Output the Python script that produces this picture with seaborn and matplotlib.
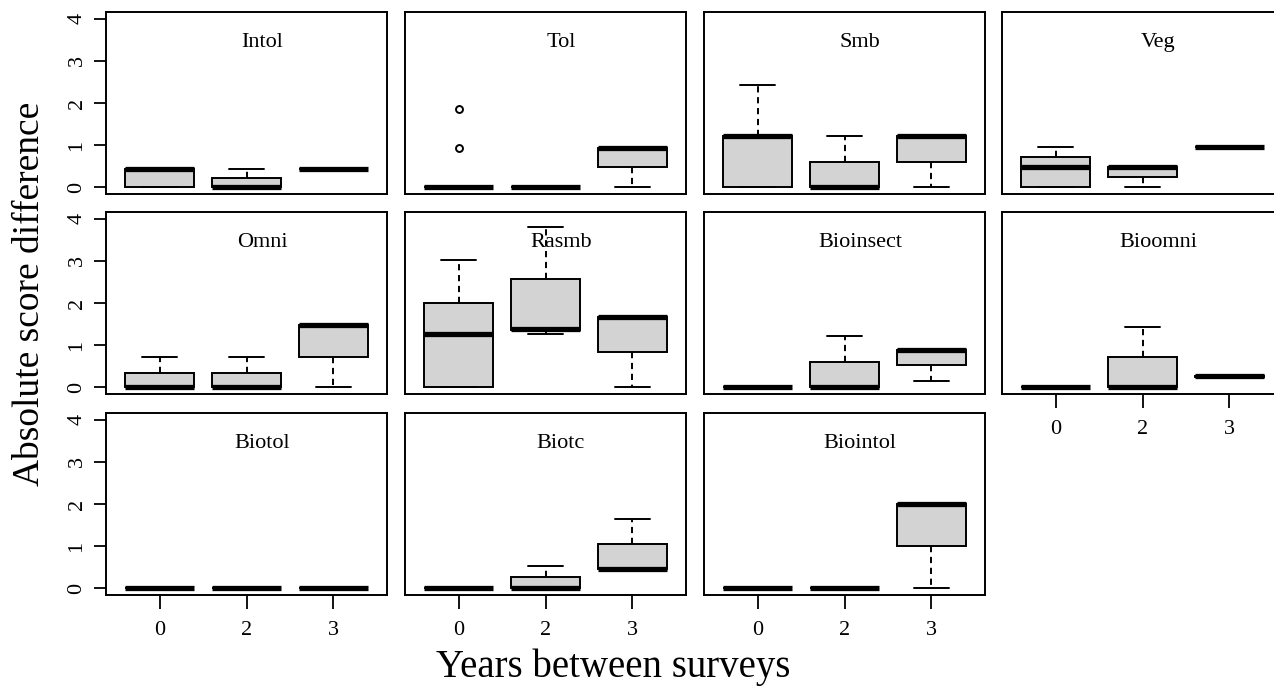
import matplotlib
matplotlib.use("Agg")
import matplotlib.pyplot as plt
import pandas as pd
import seaborn as sns

# Survey interval groups (years between surveys)
years = ["0", "2", "3"]

# Metric panels, laid out row by row
metrics = ["Intol", "Tol", "Smb", "Veg",
           "Omni", "Rasmb", "Bioinsect", "Bioomni",
           "Biotol", "Biotc", "Biointol"]

# Absolute score differences per interval group (one list per group)
intol = [[0, 0, 0.44, 0.44, 0.44], [0, 0, 0, 0.22, 0.44], [0.44, 0.44, 0.44, 0.44, 0.44]]
tol = [[0, 0, 0, 0, 0, 0, 0, 0, 0.93, 1.86], [0, 0, 0, 0, 0], [0, 0.47, 0.93, 0.93, 0.93]]
smb = [[0, 0, 1.22, 1.22, 2.42], [0, 0, 0, 0.6, 1.21], [0, 0.6, 1.22, 1.22, 1.22]]
veg = [[0, 0, 0.48, 0.71, 0.95], [0, 0.24, 0.48, 0.48, 0.48], [0.95, 0.95, 0.95, 0.95, 0.95]]
omni = [[0, 0, 0, 0.35, 0.73], [0, 0, 0, 0.35, 0.73], [0, 0.73, 1.47, 1.47, 1.47]]
rasmb = [[0, 0, 1.26, 2.0, 3.03], [1.26, 1.36, 1.38, 2.58, 3.8], [0, 0.84, 1.67, 1.67, 1.67]]
bioinsect = [[0, 0, 0, 0, 0], [0, 0, 0, 0.6, 1.21], [0.14, 0.53, 0.89, 0.89, 0.89]]
bioomni = [[0, 0, 0, 0, 0], [0, 0, 0, 0.71, 1.43], [0.24, 0.25, 0.27, 0.27, 0.27]]
biotol = [[0, 0, 0, 0, 0], [0, 0, 0, 0, 0], [0, 0, 0, 0, 0]]
biotc = [[0, 0, 0, 0, 0], [0, 0, 0, 0.27, 0.53], [0.46, 0.46, 0.46, 1.06, 1.64]]
biointol = [[0, 0, 0, 0, 0], [0, 0, 0, 0, 0], [0, 1.01, 2.0, 2.0, 2.0]]

panels = [intol, tol, smb, veg, omni, rasmb, bioinsect, bioomni, biotol, biotc, biointol]

sns.set_style("ticks")
plt.rcParams["font.family"] = ["Liberation Serif", "DejaVu Serif"]
plt.rcParams["text.color"] = "black"
plt.rcParams["xtick.color"] = "black"
plt.rcParams["ytick.color"] = "black"
plt.rcParams["xtick.labelcolor"] = "black"
plt.rcParams["ytick.labelcolor"] = "black"

W, H = 1274, 688
fig = plt.figure(figsize=(W / 100, H / 100), dpi=100)

col_left = [106, 405, 704, 1002]
row_top = [12, 212, 413]
pw, ph = 281, 182

for i, (name, groups) in enumerate(zip(metrics, panels)):
    r, c = divmod(i, 4)
    ax = fig.add_axes([col_left[c] / W, 1 - (row_top[r] + ph) / H, pw / W, ph / H])
    df = pd.DataFrame({
        "years": [y for y, g in zip(years, groups) for _ in g],
        "diff": [v for g in groups for v in g],
    })
    sns.boxplot(
        data=df, x="years", y="diff", order=years, ax=ax,
        color="#d3d3d3", saturation=1, linecolor="black", linewidth=1.4,
        width=0.8, fliersize=5,
        whiskerprops=dict(linestyle=(0, (3.2, 2.4))),
        medianprops=dict(linewidth=3.8, solid_capstyle="butt"),
        flierprops=dict(marker="o", markerfacecolor="none",
                        markeredgecolor="black", markeredgewidth=1.4),
    )
    ax.set_xlim(-0.62, 2.62)
    ax.set_ylim(-0.16, 4.16)
    ax.set_yticks([0, 1, 2, 3, 4])
    ax.set_xlabel("")
    ax.set_ylabel("")
    for sp in ax.spines.values():
        sp.set_visible(True)
        sp.set_linewidth(1.4)
        sp.set_color("black")

    if c == 0:
        ax.set_yticklabels(["0", "1", "2", "3", "4"], fontsize=16,
                           rotation=90, va="center")
        ax.tick_params(axis="y", length=9, width=1.3, pad=5, color="black")
    else:
        ax.tick_params(axis="y", left=False, labelleft=False)

    if r == 2 or (r == 1 and c == 3):
        ax.tick_params(axis="x", length=10, width=1.3, labelsize=16, pad=9,
                       color="black")
    else:
        ax.tick_params(axis="x", bottom=False, labelbottom=False)

    ax.text(0.555, 0.805, name, transform=ax.transAxes, ha="center",
            va="baseline", fontsize=16)

fig.text(613 / W, 1 - 677 / H, "Years between surveys", ha="center",
         va="baseline", fontsize=28)
fig.text(30 / W, 1 - 294 / H, "Absolute score difference", rotation=90,
         ha="center", va="center", fontsize=27)

fig.savefig("out.png", dpi=100)
